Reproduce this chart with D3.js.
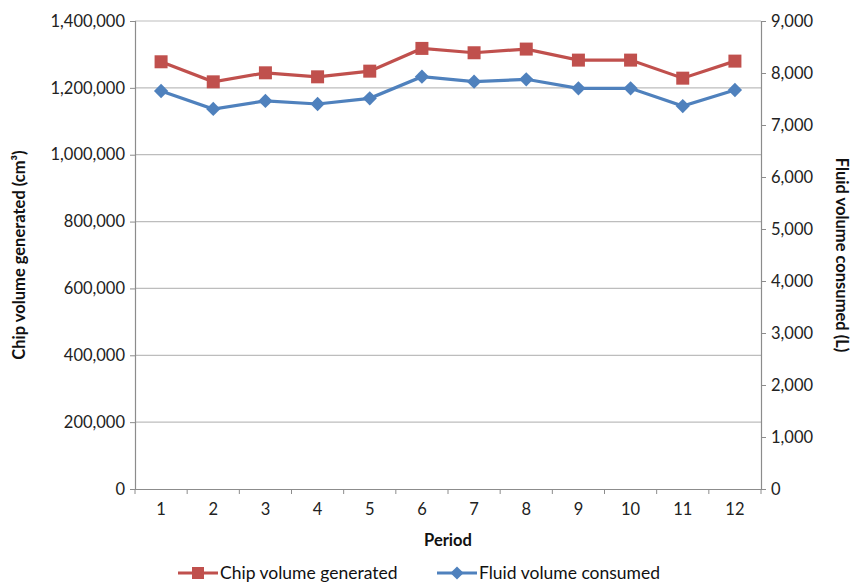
<!DOCTYPE html>
<html lang="en">
<head>
<meta charset="UTF-8">
<title>Chip and fluid volume by period</title>
<script src="https://d3js.org/d3.v7.min.js"></script>
<style>
  body { margin: 0; background: #fff; font-family: Lato, "Open Sans", sans-serif; }
  .tick text { font-size: 16.5px; fill: #222; font-family: Lato, sans-serif; }
  .axis-title { font-size: 16.5px; font-weight: bold; fill: #111; }
  .legend text { font-size: 17.5px; fill: #111; }
</style>
</head>
<body>
<svg width="861" height="584"></svg>
<script>
const periods = ["1", "2", "3", "4", "5", "6", "7", "8", "9", "10", "11", "12"];
const chipVolume = [1278000, 1218000, 1245000, 1233000, 1250000, 1318000, 1305000, 1316000, 1283000, 1283000, 1229000, 1280000];
const fluidVolume = [7654, 7308, 7462, 7404, 7513, 7929, 7833, 7879, 7706, 7706, 7365, 7673];
const leftTicks = [0, 200000, 400000, 600000, 800000, 1000000, 1200000, 1400000];
const rightTicks = [0, 1000, 2000, 3000, 4000, 5000, 6000, 7000, 8000, 9000];

const red = "#c0504d", blue = "#4f81bd";

const svg = d3.select("svg"),
      margin = { top: 21, right: 100, bottom: 95, left: 135 },
      width = +svg.attr("width") - margin.left - margin.right,
      height = +svg.attr("height") - margin.top - margin.bottom,
      g = svg.append("g").attr("transform", `translate(${margin.left},${margin.top})`);

const x = d3.scaleBand().domain(periods).range([0, width]);
const yL = d3.scaleLinear().domain([0, 1400000]).range([height, 0]);
const yR = d3.scaleLinear().domain([0, 9000]).range([height, 0]);

// gridlines
g.append("g")
  .selectAll("line")
  .data(leftTicks.slice(1))
  .enter().append("line")
  .attr("x1", 0).attr("x2", width)
  .attr("y1", d => yL(d)).attr("y2", d => yL(d))
  .attr("stroke", "#bdbdbd").attr("stroke-width", 1.2);

const fmt = d3.format(",");

const axL = g.append("g")
  .call(d3.axisLeft(yL).tickValues(leftTicks).tickFormat(fmt).tickSize(5).tickPadding(5));
const axR = g.append("g")
  .attr("transform", `translate(${width},0)`)
  .call(d3.axisRight(yR).tickValues(rightTicks).tickFormat(fmt).tickSize(5).tickPadding(5));
const axB = g.append("g")
  .attr("transform", `translate(0,${height})`)
  .call(d3.axisBottom(x).tickSize(0).tickPadding(14));

// category boundary ticks
axB.selectAll(".sep")
  .data(periods.concat(["end"]))
  .enter().append("line")
  .attr("class", "sep")
  .attr("x1", (d, i) => i * x.bandwidth()).attr("x2", (d, i) => i * x.bandwidth())
  .attr("y1", 0).attr("y2", 5)
  .attr("stroke", "#8c8c8c");

[axL, axR, axB].forEach(a => {
  a.selectAll(".domain").attr("stroke", "#8c8c8c").attr("stroke-width", 1.2);
  a.selectAll(".tick line").attr("stroke", "#8c8c8c");
});

// lines
const lineL = d3.line().x((d, i) => x(periods[i]) + x.bandwidth() / 2).y(d => yL(d));
const lineR = d3.line().x((d, i) => x(periods[i]) + x.bandwidth() / 2).y(d => yR(d));

g.append("path").datum(chipVolume)
  .attr("fill", "none").attr("stroke", red).attr("stroke-width", 3.2)
  .attr("d", lineL);
g.append("path").datum(fluidVolume)
  .attr("fill", "none").attr("stroke", blue).attr("stroke-width", 3.2)
  .attr("d", lineR);

g.selectAll(".sq")
  .data(chipVolume)
  .enter().append("rect")
  .attr("x", (d, i) => x(periods[i]) + x.bandwidth() / 2 - 6.5)
  .attr("y", d => yL(d) - 6.5)
  .attr("width", 13).attr("height", 13)
  .attr("fill", red);

const diamond = d3.symbol().type(d3.symbolDiamond2).size(130);
g.selectAll(".dm")
  .data(fluidVolume)
  .enter().append("path")
  .attr("transform", (d, i) => `translate(${x(periods[i]) + x.bandwidth() / 2},${yR(d)})`)
  .attr("d", diamond)
  .attr("fill", blue);

// axis titles
svg.append("text").attr("class", "axis-title")
  .attr("transform", `translate(25,${margin.top + height / 2}) rotate(-90)`)
  .attr("text-anchor", "middle")
  .text("Chip volume generated (cm³)");
svg.append("text").attr("class", "axis-title")
  .attr("transform", `translate(836,${margin.top + height / 2}) rotate(90)`)
  .attr("text-anchor", "middle")
  .text("Fluid volume consumed (L)");
svg.append("text").attr("class", "axis-title")
  .attr("x", margin.left + width / 2).attr("y", 546)
  .attr("text-anchor", "middle")
  .text("Period");

// legend
const legend = svg.append("g").attr("class", "legend").attr("transform", "translate(178,573)");
legend.append("line").attr("x1", 0).attr("x2", 40).attr("y1", 0).attr("y2", 0)
  .attr("stroke", red).attr("stroke-width", 3.2);
legend.append("rect").attr("x", 14).attr("y", -6).attr("width", 12).attr("height", 12).attr("fill", red);
legend.append("text").attr("x", 42).attr("y", 6).text("Chip volume generated");

legend.append("line").attr("x1", 259).attr("x2", 299).attr("y1", 0).attr("y2", 0)
  .attr("stroke", blue).attr("stroke-width", 3.2);
legend.append("path").attr("transform", "translate(279,0)").attr("d", d3.symbol().type(d3.symbolDiamond2).size(110)).attr("fill", blue);
legend.append("text").attr("x", 301).attr("y", 6).text("Fluid volume consumed");
</script>
</body>
</html>
